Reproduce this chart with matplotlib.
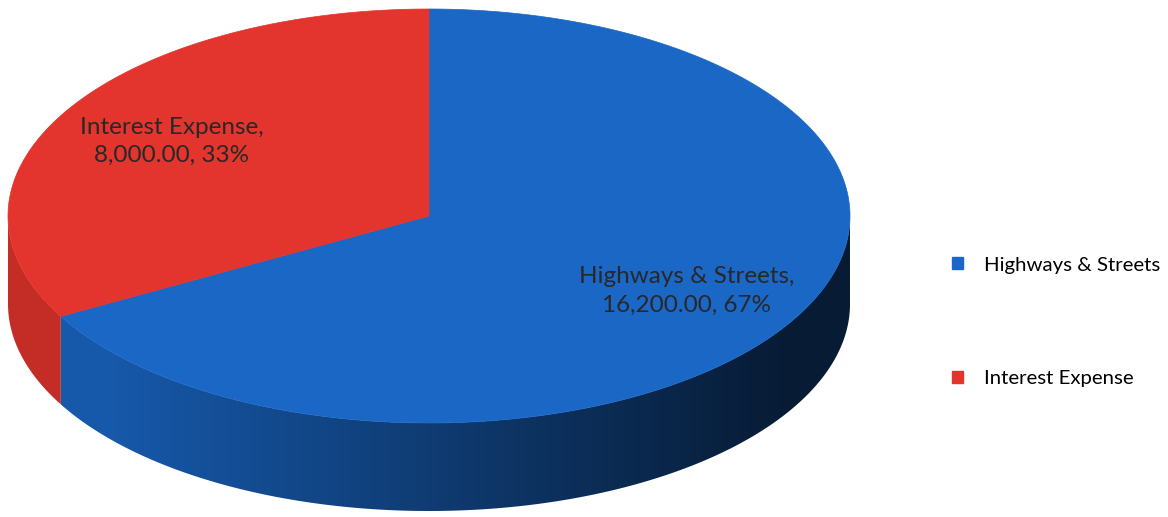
import numpy as np
import matplotlib
matplotlib.use("Agg")
import matplotlib.pyplot as plt
from matplotlib.patches import Polygon, Patch

plt.rcParams['font.family'] = ['Lato', 'DejaVu Sans']

# Data
categories = ["Highways & Streets", "Interest Expense"]
values = [16200.00, 8000.00]
top_colors = ["#1a67c6", "#e3352d"]

# Layout of the tilted pie (pixels in figure space)
W, H = 1168, 517
cx, cy = 429, 216         # centre of the top face
rx, ry = 421, 207         # radii of the top ellipse
depth = 88                # thickness of the disc
label_r = 0.71            # radial position of the data labels

fig = plt.figure(figsize=(W / 100, H / 100), dpi=100)
ax = fig.add_axes([0, 0, 1, 1])
ax.set_xlim(0, W)
ax.set_ylim(H, 0)
ax.axis("off")

total = sum(values)
fracs = [v / total for v in values]
# angles measured clockwise from 12 o'clock, in degrees
bounds = np.concatenate([[0], np.cumsum(fracs) * 360])


def pt(theta_deg, r=1.0, dz=0.0):
    t = np.radians(theta_deg)
    return cx + rx * r * np.sin(t), cy - ry * r * np.cos(t) + dz


def side_gradient(color):
    """Horizontal light-from-the-left shading for the rim of the disc."""
    rgb = np.array(matplotlib.colors.to_rgb(color))
    xs = np.linspace(cx - rx, cx + rx, 600)
    u = (xs - cx) / rx
    f = np.clip(0.58 - 0.37 * u, 0.27, 0.86)
    img = np.clip(rgb[None, :] * f[:, None], 0, 1)
    return img[None, :, :]


# Side walls: only the front half (90..270 deg) is visible
for i, col in enumerate(top_colors):
    a0, a1 = bounds[i], bounds[i + 1]
    s0, s1 = max(a0, 90), min(a1, 270)
    if s1 <= s0:
        continue
    ts = np.linspace(s0, s1, 400)
    xt, yt = pt(ts)
    poly = list(zip(xt, yt)) + list(zip(xt[::-1], yt[::-1] + depth))
    clip = Polygon(poly, closed=True, facecolor="none", edgecolor="none")
    ax.add_patch(clip)
    im = ax.imshow(side_gradient(col), extent=(cx - rx, cx + rx, cy + ry + depth + 2, cy - 2),
                   aspect="auto", interpolation="bilinear", zorder=1)
    im.set_clip_path(clip)

# Top face wedges
for i, col in enumerate(top_colors):
    a0, a1 = bounds[i], bounds[i + 1]
    ts = np.linspace(a0, a1, 400)
    xs, ys = pt(ts)
    poly = [(cx, cy)] + list(zip(xs, ys))
    ax.add_patch(Polygon(poly, closed=True, facecolor=col, edgecolor=col,
                         linewidth=0.5, zorder=2))

# Data labels: "category, value, percent"
for i, (cat, val) in enumerate(zip(categories, values)):
    mid = (bounds[i] + bounds[i + 1]) / 2
    lx, ly = pt(mid, label_r)
    txt = f"{cat},\n{val:,.2f}, {fracs[i] * 100:.0f}%"
    ax.text(lx, ly, txt, ha="center", va="center", fontsize=17.5,
            color="#282828", linespacing=1.45, zorder=3)

ax.set_xlim(0, W)
ax.set_ylim(H, 0)

# Legend
handles = [Patch(facecolor=c, edgecolor=c) for c in top_colors]
ax.legend(handles, categories, loc="center left",
          bbox_to_anchor=(952 / W, 1 - 322 / H), frameon=False,
          fontsize=14.7, handlelength=0.52, handleheight=0.52,
          handletextpad=1.05, labelspacing=4.75, borderpad=0, borderaxespad=0)

fig.savefig("out.png", dpi=100)
